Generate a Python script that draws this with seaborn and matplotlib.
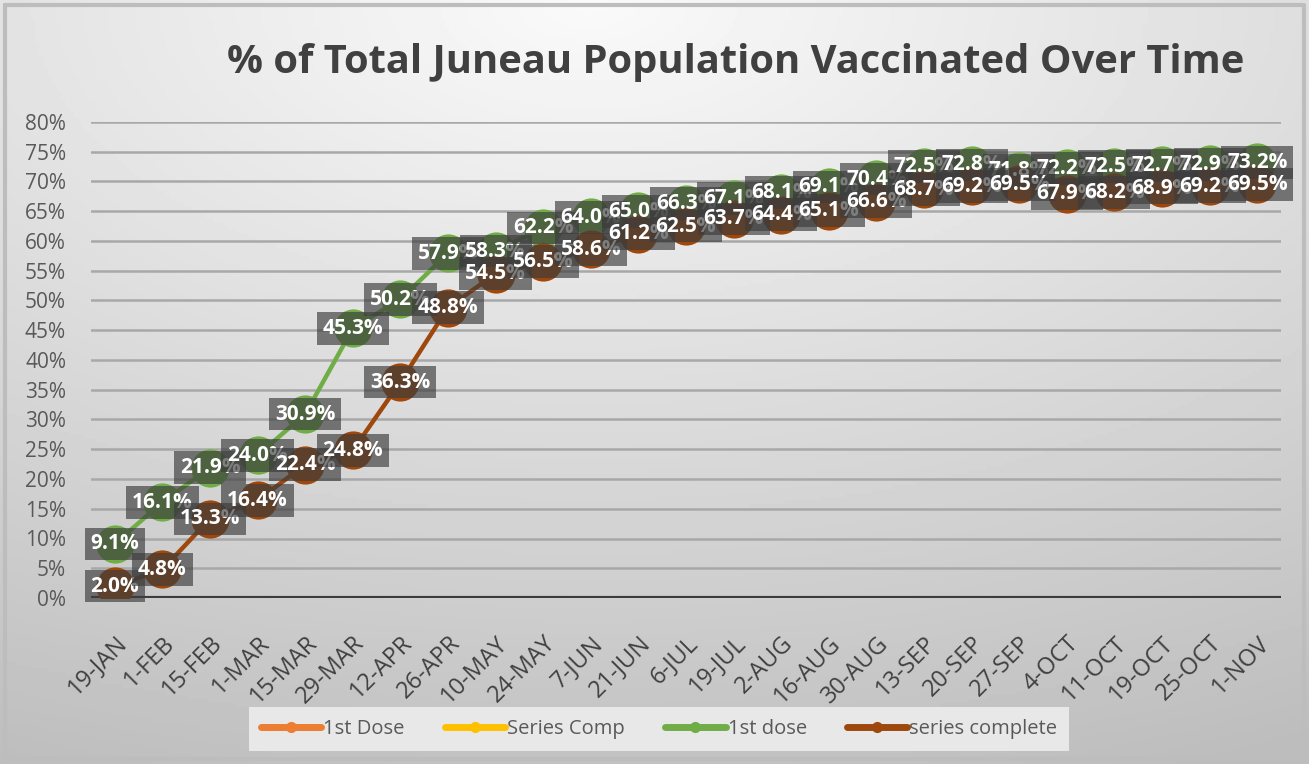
import numpy as np
import pandas as pd
import matplotlib
matplotlib.use("Agg")
import matplotlib.pyplot as plt
from matplotlib.lines import Line2D
import seaborn as sns

# ---------------- data ----------------
dates = ["19-JAN", "1-FEB", "15-FEB", "1-MAR", "15-MAR", "29-MAR", "12-APR", "26-APR",
         "10-MAY", "24-MAY", "7-JUN", "21-JUN", "6-JUL", "19-JUL", "2-AUG", "16-AUG",
         "30-AUG", "13-SEP", "20-SEP", "27-SEP", "4-OCT", "11-OCT", "19-OCT", "25-OCT", "1-NOV"]
first_dose = [9.1, 16.1, 21.9, 24.0, 30.9, 45.3, 50.2, 57.9, 58.3, 62.2, 64.0, 65.0, 66.3,
              67.1, 68.1, 69.1, 70.4, 72.5, 72.8, 71.8, 72.2, 72.5, 72.7, 72.9, 73.2]
series_complete = [2.0, 4.8, 13.3, 16.4, 22.4, 24.8, 36.3, 48.8, 54.5, 56.5, 58.6, 61.2, 62.5,
                   63.7, 64.4, 65.1, 66.6, 68.7, 69.2, 69.5, 67.9, 68.2, 68.9, 69.2, 69.5]
legend_labels = ["1st Dose", "Series Comp", "1st dose", "series complete"]
legend_colors = ["#ed7d31", "#ffc000", "#70ad47", "#9e480e"]
yticks = [0, 5, 10, 15, 20, 25, 30, 35, 40, 45, 50, 55, 60, 65, 70, 75, 80]
title = "% of Total Juneau Population Vaccinated Over Time"

GREEN = "#70ad47"
BROWN = "#9e480e"

sns.set_style("white")
plt.rcParams["font.family"] = ["Open Sans", "DejaVu Sans"]

W, H = 1309, 764
fig = plt.figure(figsize=(W / 100, H / 100), dpi=100)

# background gradient
bg = fig.add_axes([0, 0, 1, 1], zorder=-10)
yy, xx = np.mgrid[0:1:200j, 0:1:300j]
d = np.sqrt(((xx - 0.45) * 1.0) ** 2 + ((yy - 0.0) * 1.1) ** 2)
val = 0.98 - 0.20 * np.clip(d, 0, 1.2)
bg.imshow(val, cmap="gray", vmin=0, vmax=1, aspect="auto", extent=[0, 1, 1, 0])
bg.set_xlim(0, 1); bg.set_ylim(1, 0)
bg.axis("off")
# outer frame
bg.plot([0.004, 0.004, 0.996, 0.996, 0.004], [0.006, 0.994, 0.994, 0.006, 0.006],
        color="#bdbdbd", lw=3)

ax = fig.add_axes([91 / W, 1 - 598 / H, (1281 - 91) / W, (598 - 122) / H])
ax.patch.set_alpha(0)

df = pd.DataFrame({"idx": np.arange(len(dates)), "date": dates,
                   "first": first_dose, "complete": series_complete})

for col, color in [("first", GREEN), ("complete", BROWN)]:
    sns.lineplot(data=df, x="idx", y=col, ax=ax, color=color, linewidth=3.2,
                 marker="o", markersize=27.5, markeredgecolor=color,
                 markerfacecolor=color, markeredgewidth=0, zorder=3, legend=False)

# data labels
for col in ["first", "complete"]:
    for i, v in zip(df["idx"], df[col]):
        ax.text(i, v, f"{v:.1f}%", ha="center", va="center", color="white",
                fontsize=15, fontweight="bold", zorder=5,
                bbox=dict(boxstyle="square,pad=0.28", facecolor="#3c3c3c",
                          edgecolor="none", alpha=0.66))

ax.set_xlim(-0.5, len(dates) - 0.5)
ax.set_ylim(0, 80)
ax.set_yticks(yticks)
ax.set_yticklabels([f"{t}%" for t in yticks], color="#595959", fontsize=15)
ax.set_xticks(df["idx"])
ax.set_xticklabels(dates, rotation=45, ha="right", rotation_mode="anchor",
                   color="#404040", fontsize=17)
ax.tick_params(axis="both", length=0)
ax.tick_params(axis="y", pad=18)
ax.tick_params(axis="x", pad=24)
ax.set_xlabel("")
ax.set_ylabel("")
for t in yticks[1:]:
    ax.axhline(t, color="#a8a8a8", lw=1.8, zorder=1)
ax.axhline(0, color="#3c3c3c", lw=3, zorder=2)
for s in ax.spines.values():
    s.set_visible(False)

fig.text(736 / W, 1 - 62 / H, title, ha="center", va="center", fontsize=28.7,
         fontweight="bold", color="#404040")

handles = [Line2D([0], [0], color=c, lw=5, marker="o", markersize=7) for c in legend_colors]
leg = fig.legend(handles, legend_labels, loc="center", bbox_to_anchor=(659 / W, 1 - 729 / H),
                 ncol=4, frameon=True, fancybox=False, fontsize=14.5, handlelength=3.0,
                 handletextpad=0.1, columnspacing=2.0, borderpad=0.6)
leg.get_frame().set_facecolor("#e8e8e8")
leg.get_frame().set_edgecolor("none")
leg.get_frame().set_alpha(1)
for t in leg.get_texts():
    t.set_color("#595959")

fig.savefig("out.png", dpi=100)
